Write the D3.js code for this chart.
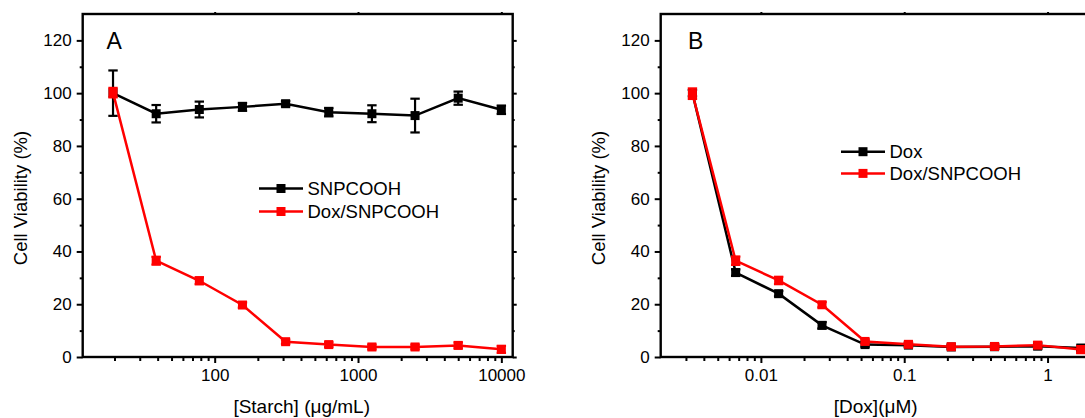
<!DOCTYPE html>
<html>
<head>
<meta charset="utf-8">
<script src="https://cdn.jsdelivr.net/npm/d3@7"></script>
<style>
  body { margin: 0; background: #fff; }
  svg { display: block; }
  text { font-family: "Liberation Sans", Arial, sans-serif; fill: #000; }
</style>
</head>
<body>
<svg id="chart" width="1085" height="418"></svg>
<script>
// ---- Panel A: viability vs. starch concentration ----
const starchConc = [19.53, 39.06, 78.13, 156.25, 312.5, 625, 1250, 2500, 5000, 10000];
const snpcoohViability = [100, 92.2, 93.8, 94.8, 96.0, 92.8, 92.2, 91.5, 98.1, 93.7];
const snpcoohError     = [8.6, 3.3, 3.0, 1.5, 1.0, 1.6, 3.2, 6.4, 2.5, 1.6];
const doxSnpViabilityA = [100.2, 36.5, 28.9, 19.7, 5.8, 4.7, 3.8, 3.8, 4.4, 2.9];
const doxSnpErrorA     = [1.8, 1.5, 1.3, 1.0, 0.8, 0.9, 0.9, 0.9, 1.1, 1.3];

// ---- Panel B: viability vs. Dox concentration ----
const doxConc = [0.00333, 0.00667, 0.0133, 0.0267, 0.0533, 0.107, 0.213, 0.427, 0.853, 1.707];
const doxViability     = [100, 32, 24, 12, 4.7, 4.5, 3.8, 3.9, 4.1, 3.4];
const doxError         = [1.2, 1.2, 1.0, 1.2, 0.8, 0.8, 0.8, 0.8, 1.0, 0.9];
const doxSnpViabilityB = [99.8, 36.5, 29, 19.8, 5.9, 4.8, 3.9, 4.0, 4.5, 2.8];
const doxSnpErrorB     = [2.0, 1.6, 1.4, 1.0, 0.8, 0.9, 0.9, 0.9, 1.1, 1.3];

// ---- axis ticks and labels ----
const yTicks = [0, 20, 40, 60, 80, 100, 120];
const yMinorTicks = [10, 30, 50, 70, 90, 110];
const starchTicks = [100, 1000, 10000];
const doxTicks = [0.01, 0.1, 1];

const svg = d3.select("#chart");

function logMinors(domain) {
  const out = [];
  const lo = Math.floor(Math.log10(domain[0])), hi = Math.ceil(Math.log10(domain[1]));
  for (let e = lo; e <= hi; e++) {
    for (let k = 2; k <= 9; k++) {
      const v = k * Math.pow(10, e);
      if (v > domain[0] && v < domain[1]) out.push(v);
    }
  }
  return out;
}

function drawPanel(cfg) {
  const g = svg.append("g");
  const x = d3.scaleLog().domain(cfg.xDomain).range([cfg.left, cfg.right]);
  const y = d3.scaleLinear().domain([0, 130]).range([357, 14]);

  // left axis: majors with labels, minors unlabeled
  const yAx = g.append("g").attr("transform", `translate(${cfg.left},0)`)
    .call(d3.axisLeft(y).tickValues(yTicks).tickSize(6).tickPadding(5));
  yAx.append("g").call(d3.axisLeft(y).tickValues(yMinorTicks).tickSize(3).tickFormat(""));
  // right axis mirror
  const yR = g.append("g").attr("transform", `translate(${cfg.right},0)`)
    .call(d3.axisRight(y).tickValues(yTicks).tickSize(4).tickFormat(""));
  yR.append("g").call(d3.axisRight(y).tickValues(yMinorTicks).tickSize(2).tickFormat(""));

  // bottom axis
  const xAx = g.append("g").attr("transform", "translate(0,357)")
    .call(d3.axisBottom(x).tickValues(cfg.xTicks).tickSize(6).tickPadding(6).tickFormat(d => String(d)));
  xAx.append("g").call(d3.axisBottom(x).tickValues(logMinors(cfg.xDomain)).tickSize(4).tickFormat(""));
  // top axis mirror (short)
  g.append("g").attr("transform", "translate(0,14)")
    .call(d3.axisTop(x).tickValues(cfg.xTicks).tickSize(2).tickFormat(""));

  g.selectAll(".domain").remove();
  g.selectAll(".tick line").attr("stroke", "#000").attr("stroke-width", 2);
  g.selectAll(".tick text").style("font-size", "17px").attr("fill", "#000");

  // plot frame
  g.append("rect")
    .attr("x", cfg.left).attr("y", 14)
    .attr("width", cfg.right - cfg.left).attr("height", 357 - 14)
    .attr("fill", "none").attr("stroke", "#000").attr("stroke-width", 2.4);

  // axis titles
  g.append("text")
    .attr("transform", `translate(${cfg.left - 62.5},198) rotate(-90)`)
    .attr("text-anchor", "middle").attr("dy", "0.35em")
    .style("font-size", "18.5px")
    .text("Cell Viability (%)");
  g.append("text")
    .attr("x", (cfg.left + cfg.right) / 2 + cfg.titleShift).attr("y", 406)
    .attr("text-anchor", "middle").attr("dy", "0.35em")
    .style("font-size", "19px")
    .text(cfg.xTitle);

  // panel letter
  g.append("text")
    .attr("x", cfg.letterX).attr("y", 48.5)
    .style("font-size", "23px")
    .text(cfg.letter);

  // series: line, error bars, square markers
  cfg.series.forEach(s => {
    const pts = s.values.map((v, i) => ({ x: cfg.xValues[i], v, e: s.errors[i] }));
    const sg = g.append("g");
    sg.append("path").datum(pts)
      .attr("fill", "none").attr("stroke", s.color).attr("stroke-width", 2.5)
      .attr("d", d3.line().x(d => x(d.x)).y(d => y(d.v)));
    const eb = sg.selectAll(".eb").data(pts).enter().append("g")
      .attr("stroke", s.color).attr("stroke-width", 2.2);
    eb.append("line")
      .attr("x1", d => x(d.x)).attr("x2", d => x(d.x))
      .attr("y1", d => y(d.v - d.e)).attr("y2", d => y(d.v + d.e));
    eb.append("line")
      .attr("x1", d => x(d.x) - 4.7).attr("x2", d => x(d.x) + 4.7)
      .attr("y1", d => y(d.v + d.e)).attr("y2", d => y(d.v + d.e));
    eb.append("line")
      .attr("x1", d => x(d.x) - 4.7).attr("x2", d => x(d.x) + 4.7)
      .attr("y1", d => y(d.v - d.e)).attr("y2", d => y(d.v - d.e));
    sg.selectAll(".mk").data(pts).enter().append("rect")
      .attr("x", d => x(d.x) - 4.5).attr("y", d => y(d.v) - 4.5)
      .attr("width", 9).attr("height", 9).attr("fill", s.color);
  });

  // legend
  cfg.series.forEach((s, i) => {
    const ly = cfg.legend.y + i * cfg.legend.dy;
    const lg = g.append("g");
    lg.append("line")
      .attr("x1", cfg.legend.x).attr("x2", cfg.legend.x + 44)
      .attr("y1", ly).attr("y2", ly)
      .attr("stroke", s.color).attr("stroke-width", 2.5);
    lg.append("rect")
      .attr("x", cfg.legend.x + 22 - 4.5).attr("y", ly - 4.5)
      .attr("width", 9).attr("height", 9).attr("fill", s.color);
    lg.append("text")
      .attr("x", cfg.legend.x + 48.5).attr("y", ly).attr("dy", "0.35em")
      .style("font-size", "18.5px")
      .text(s.name);
  });
}

drawPanel({
  left: 82.7, right: 512.7,
  xDomain: [12, 12000], xTicks: starchTicks, xValues: starchConc,
  xTitle: "[Starch] (\u03bcg/mL)", titleShift: 4,
  letter: "A", letterX: 106.5,
  legend: { x: 259, y: 188.5, dy: 23 },
  series: [
    { name: "SNPCOOH", color: "#000000", values: snpcoohViability, errors: snpcoohError },
    { name: "Dox/SNPCOOH", color: "#ff0000", values: doxSnpViabilityA, errors: doxSnpErrorA }
  ]
});

drawPanel({
  left: 660.7, right: 1090.7,
  xDomain: [0.002, 2], xTicks: doxTicks, xValues: doxConc,
  xTitle: "[Dox](\u03bcM)", titleShift: 0,
  letter: "B", letterX: 688,
  legend: { x: 841, y: 151.7, dy: 21.7 },
  series: [
    { name: "Dox", color: "#000000", values: doxViability, errors: doxError },
    { name: "Dox/SNPCOOH", color: "#ff0000", values: doxSnpViabilityB, errors: doxSnpErrorB }
  ]
});
</script>
</body>
</html>
